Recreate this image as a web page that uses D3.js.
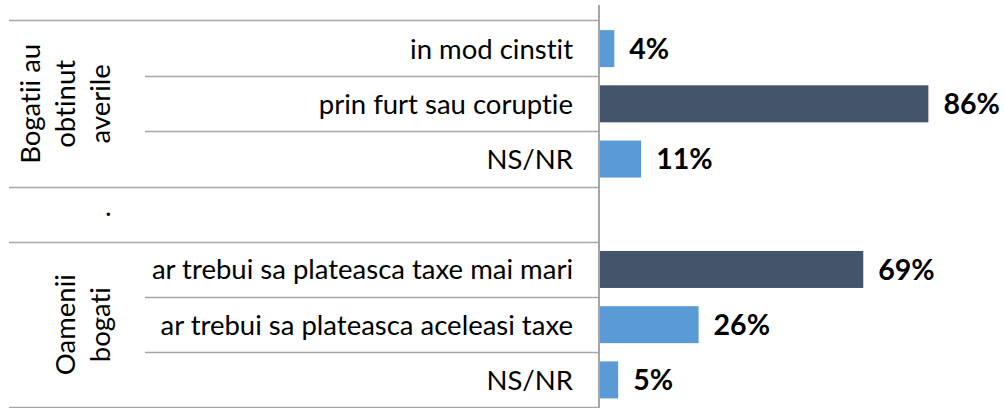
<!DOCTYPE html>
<html>
<head>
<meta charset="utf-8">
<script src="https://cdn.jsdelivr.net/npm/d3@7"></script>
<style>
  body { margin: 0; background: #fff; }
  text { font-family: Lato, "Open Sans", sans-serif; fill: #000; font-variant-ligatures: none; }
</style>
</head>
<body>
<script>
// rows of the chart, top to bottom (row 3 is the empty spacer row)
const categories = ["in mod cinstit", "prin furt sau coruptie", "NS/NR", "",
  "ar trebui sa plateasca taxe mai mari", "ar trebui sa plateasca aceleasi taxe", "NS/NR"];
const values = [4, 86, 11, null, 69, 26, 5];
const highlight = [false, true, false, false, true, false, false];

// outer group labels
const groupLines = [["Bogatii au", "obtinut", "averile"], ["."], ["Oamenii", "bogati"]];
const groupStart = [0, 3, 4];
const groupEnd = [3, 4, 7];

const width = 1004;
const height = 408;

const svg = d3.select("body").append("svg")
  .attr("width", width)
  .attr("height", height);

const y = d3.scaleBand()
  .domain(d3.range(categories.length))
  .range([21, 407.5])
  .paddingInner(0.33)
  .paddingOuter(0.165);

const x = d3.scaleLinear()
  .domain([0, 100])
  .range([599, 982]);

const step = y.step();
const rowTop = i => y.range()[0] + i * step;

// separators between categories
const innerLines = [];
categories.forEach((c, i) => {
  if (i > 0) innerLines.push(i);
});

svg.append("g")
  .selectAll("line")
  .data(innerLines)
  .join("line")
  .attr("x1", i => groupStart.includes(i) ? 9 : 145)
  .attr("x2", x(0))
  .attr("y1", i => Math.round(rowTop(i)) + 0.5)
  .attr("y2", i => Math.round(rowTop(i)) + 0.5)
  .attr("stroke", "#a6a6a6")
  .attr("stroke-width", 1.5);

// top and bottom border lines
svg.append("g")
  .selectAll("line")
  .data([0, categories.length])
  .join("line")
  .attr("x1", 9)
  .attr("x2", x(0))
  .attr("y1", i => Math.round(rowTop(i)) - 0.5)
  .attr("y2", i => Math.round(rowTop(i)) - 0.5)
  .attr("stroke", "#a6a6a6")
  .attr("stroke-width", 1.5);

// bars
svg.append("g")
  .selectAll("rect")
  .data(values.map((v, i) => ({ v, i })).filter(d => d.v != null))
  .join("rect")
  .attr("x", x(0))
  .attr("y", d => y(d.i))
  .attr("width", d => x(d.v) - x(0))
  .attr("height", y.bandwidth())
  .attr("fill", d => highlight[d.i] ? "#44546a" : "#5b9bd5");

// axis line
svg.append("line")
  .attr("x1", x(0))
  .attr("x2", x(0))
  .attr("y1", 5)
  .attr("y2", height)
  .attr("stroke", "#a6a6a6")
  .attr("stroke-width", 2);

// value labels
svg.append("g")
  .selectAll("text")
  .data(values.map((v, i) => ({ v, i })).filter(d => d.v != null))
  .join("text")
  .attr("x", d => x(d.v) + 15)
  .attr("y", d => y(d.i) + y.bandwidth() / 2)
  .attr("dy", "0.36em")
  .style("font-size", "28.5px")
  .style("font-weight", "bold")
  .text(d => d.v + "%");

// category labels
svg.append("g")
  .selectAll("text")
  .data(categories)
  .join("text")
  .attr("x", 573)
  .attr("y", (c, i) => y(i) + y.bandwidth() / 2)
  .attr("dy", "0.36em")
  .attr("text-anchor", "end")
  .style("font-size", "27.5px")
  .text(c => c);

// rotated group labels
groupLines.forEach((lines, g) => {
  const cy = (rowTop(groupStart[g]) + rowTop(groupEnd[g])) / 2;
  const t = svg.append("text")
    .attr("transform", `translate(110,${cy}) rotate(-90)`)
    .attr("text-anchor", "middle")
    .style("font-size", "27.5px");
  lines.forEach((l, k) => {
    t.append("tspan")
      .attr("x", 0)
      .attr("y", -(lines.length - 1 - k) * 35)
      .text(l);
  });
});
</script>
</body>
</html>
